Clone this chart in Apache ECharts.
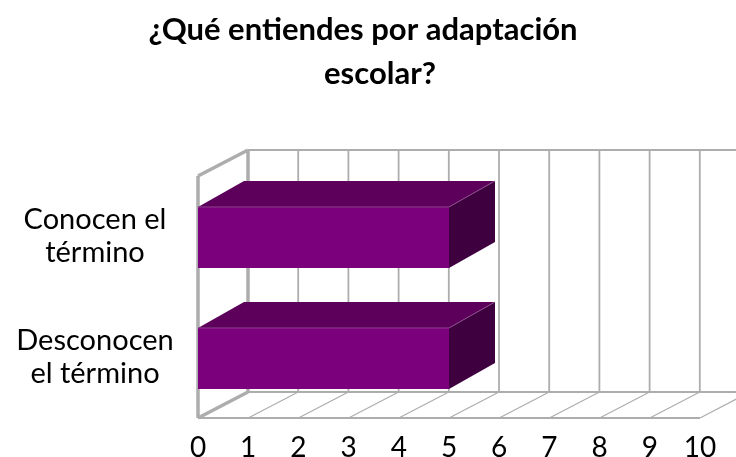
<!DOCTYPE html>
<html>
<head>
<meta charset="utf-8">
<style>html,body{margin:0;padding:0;background:#fff}#c{width:736px;height:457px}</style>
<script src="https://cdn.jsdelivr.net/npm/echarts@6/dist/echarts.min.js"></script>
</head>
<body>
<div id="c"></div>
<script>
const titleLines = ['¿Qué entiendes por adaptación', 'escolar?'];
const categories = ['Desconocen\nel término', 'Conocen el\ntérmino'];
const values = [5, 5];
const xTicks = [0, 1, 2, 3, 4, 5, 6, 7, 8, 9, 10];

const FONT = 'Lato, sans-serif';
const WALL = '#adadad';
const wallDX = 50, wallDY = -26;
const barDX = 46, barDY = -26;
const barShift = 1;

function lineShape(x1, y1, x2, y2, w) {
  return { type: 'line', shape: { x1, y1, x2, y2 }, style: { stroke: WALL, lineWidth: w } };
}

function renderWall(params, api) {
  const cs = params.coordSys;
  const top = cs.y, bottom = cs.y + cs.height;
  const x = api.coord([api.value(0), 0])[0];
  const first = api.value(0) === xTicks[0];
  const children = [
    lineShape(x + wallDX, top + wallDY, x + wallDX, bottom + wallDY, first ? 3.5 : 1.8),
    lineShape(x, bottom, x + wallDX, bottom + wallDY, first ? 3.5 : 1.2)
  ];
  if (first) {
    const right = cs.x + cs.width + wallDX;
    children.push(
      lineShape(x, top, x, bottom, 3.5),
      lineShape(x, top, x + wallDX, top + wallDY, 3.5),
      lineShape(x + wallDX, top + wallDY, right, top + wallDY, 1.8),
      lineShape(x + wallDX, bottom + wallDY, right, bottom + wallDY, 2.2),
      lineShape(x, bottom, cs.x + cs.width, bottom, 1.8)
    );
  }
  return { type: 'group', children };
}

function renderBar(params, api) {
  const start = api.coord([0, api.value(1)]);
  const end = api.coord([api.value(0), api.value(1)]);
  const h = api.size([0, 1])[1] * 0.505;
  const cy = start[1] + barShift;
  const y0 = cy - h / 2, y1 = cy + h / 2;
  const x0 = start[0], x1 = end[0];
  const edge = { stroke: '#9a5c9a', lineWidth: 0.7 };
  return {
    type: 'group',
    children: [
      { type: 'polygon', shape: { points: [[x0, y0], [x1, y0], [x1 + barDX, y0 + barDY], [x0 + barDX, y0 + barDY]] },
        style: { fill: '#5c005c' } },
      { type: 'polygon', shape: { points: [[x1, y0], [x1 + barDX, y0 + barDY], [x1 + barDX, y1 + barDY], [x1, y1]] },
        style: { fill: '#3f003f' } },
      { type: 'rect', shape: { x: x0, y: y0, width: x1 - x0, height: y1 - y0 },
        style: { fill: '#7b007b' } },
      { type: 'line', shape: { x1: x0, y1: y0, x2: x1, y2: y0 }, style: edge },
      { type: 'line', shape: { x1: x1, y1: y0, x2: x1 + barDX, y2: y0 + barDY }, style: edge }
    ]
  };
}

const titleStyle = { fontFamily: FONT, fontSize: 31, fontWeight: 'bold', color: '#000' };
const chart = echarts.init(document.getElementById('c'), null, { renderer: 'canvas' });
chart.setOption({
  animation: false,
  backgroundColor: '#fff',
  title: [
    { text: titleLines[0], left: 358, top: 9, textAlign: 'center', textStyle: titleStyle },
    { text: titleLines[1], left: 375, top: 53, textAlign: 'center', textStyle: titleStyle }
  ],
  grid: { left: 198, top: 176, width: 502, height: 242, containLabel: false, outerBoundsMode: 'none' },
  xAxis: {
    type: 'value', min: 0, max: 10, interval: 1,
    axisLine: { show: false }, axisTick: { show: false }, splitLine: { show: false },
    axisLabel: { fontFamily: FONT, fontSize: 28, color: '#000', margin: 16 }
  },
  yAxis: {
    type: 'category', data: categories,
    axisLine: { show: false }, axisTick: { show: false }, splitLine: { show: false },
    axisLabel: { fontFamily: FONT, fontSize: 29, color: '#000', margin: 103, align: 'center', lineHeight: 33 }
  },
  series: [
    {
      type: 'custom', z: 1, clip: false, silent: true,
      data: xTicks.map(v => [v]), encode: { x: 0 }, renderItem: renderWall
    },
    {
      type: 'custom', z: 2, clip: false,
      data: values.map((v, i) => [v, i]), encode: { x: 0, y: 1 }, renderItem: renderBar
    }
  ]
});
</script>
</body>
</html>
